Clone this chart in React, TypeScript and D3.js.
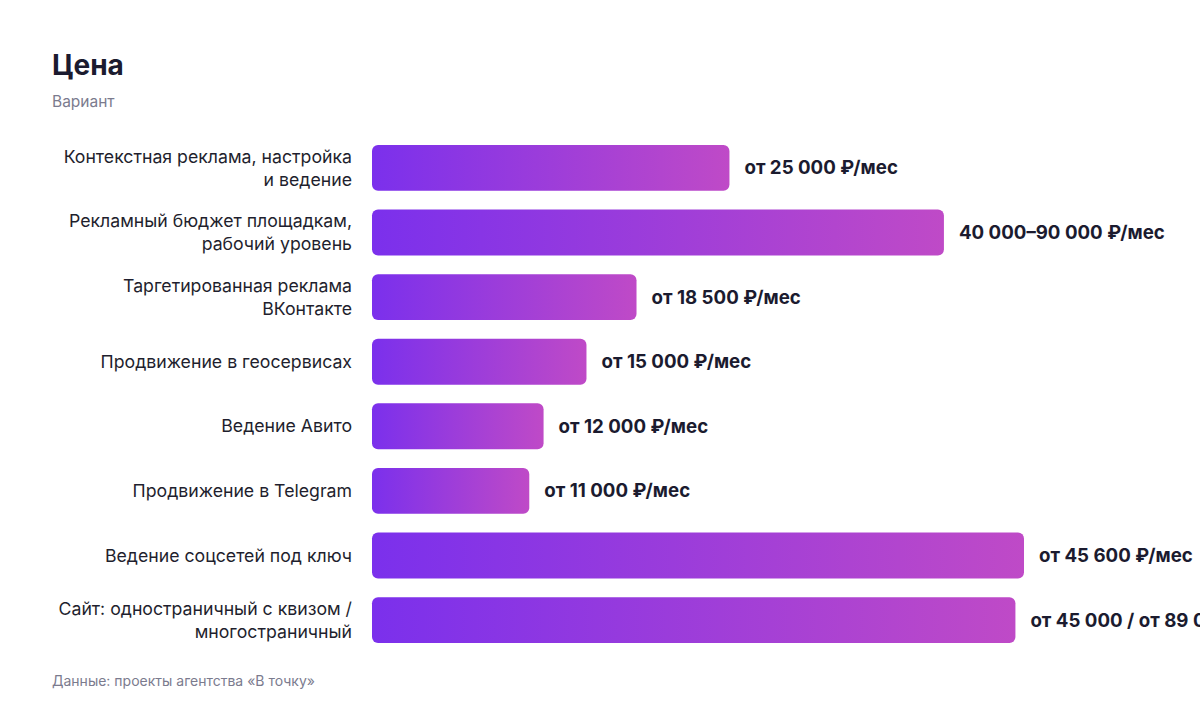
import React from "react";
import * as d3 from "d3";

const categories: string[][] = [
  ["Контекстная реклама, настройка", "и ведение"],
  ["Рекламный бюджет площадкам,", "рабочий уровень"],
  ["Таргетированная реклама", "ВКонтакте"],
  ["Продвижение в геосервисах"],
  ["Ведение Авито"],
  ["Продвижение в Telegram"],
  ["Ведение соцсетей под ключ"],
  ["Сайт: одностраничный с квизом /", "многостраничный"],
];
const values: number[] = [25000, 40000, 18500, 15000, 12000, 11000, 45600, 45000];
const valueLabels: string[] = [
  "от 25 000 ₽/мес",
  "40 000–90 000 ₽/мес",
  "от 18 500 ₽/мес",
  "от 15 000 ₽/мес",
  "от 12 000 ₽/мес",
  "от 11 000 ₽/мес",
  "от 45 600 ₽/мес",
  "от 45 000 / от 89 000 ₽",
];

const W = 1200;
const H = 712;
const FONT = "Inter, 'Helvetica Neue', Arial, sans-serif";

export default function App() {
  const ids = categories.map((_, i) => i);
  const x = d3.scaleLinear().domain([0, d3.max(values)!]).range([372, 1024]);
  const y = d3.scaleBand<number>().domain(ids).range([145, 643]).paddingInner(0.29).paddingOuter(0);
  const bw = y.bandwidth();
  return (
    <svg width={W} height={H} style={{ position: "absolute", left: 0, top: 0, background: "#fff" }} fontFamily={FONT}>
      <defs>
        <linearGradient id="barGrad" x1="0" x2="1" y1="0" y2="0">
          <stop offset="0%" stopColor="#7b30ec" />
          <stop offset="100%" stopColor="#bf4ac7" />
        </linearGradient>
      </defs>
      <text x={52} y={75} fontSize={28} fontWeight={700} fill="#1b1b2f">Цена</text>
      <text x={52} y={107} fontSize={15.5} fill="#7b7b8e">Вариант</text>
      {ids.map((i) => {
        const y0 = y(i)!;
        const cy = y0 + bw / 2;
        const lines = categories[i];
        const lh = 23;
        const startY = cy - ((lines.length - 1) * lh) / 2;
        return (
          <g key={i}>
            <rect x={x(0)} y={y0} width={x(values[i]) - x(0)} height={bw} rx={6} fill="url(#barGrad)" />
            {lines.map((l, k) => (
              <text key={k} x={352} y={startY + k * lh} dy="0.35em" textAnchor="end" fontSize={17.7} fill="#1f1f2e">{l}</text>
            ))}
            <text x={x(values[i]) + 15} y={cy} dy="0.35em" fontSize={18.7} fontWeight={700} fill="#1b1b2f">{valueLabels[i]}</text>
          </g>
        );
      })}
      <text x={52} y={686} fontSize={14} fill="#7b7b8e">Данные: проекты агентства «В точку»</text>
    </svg>
  );
}
